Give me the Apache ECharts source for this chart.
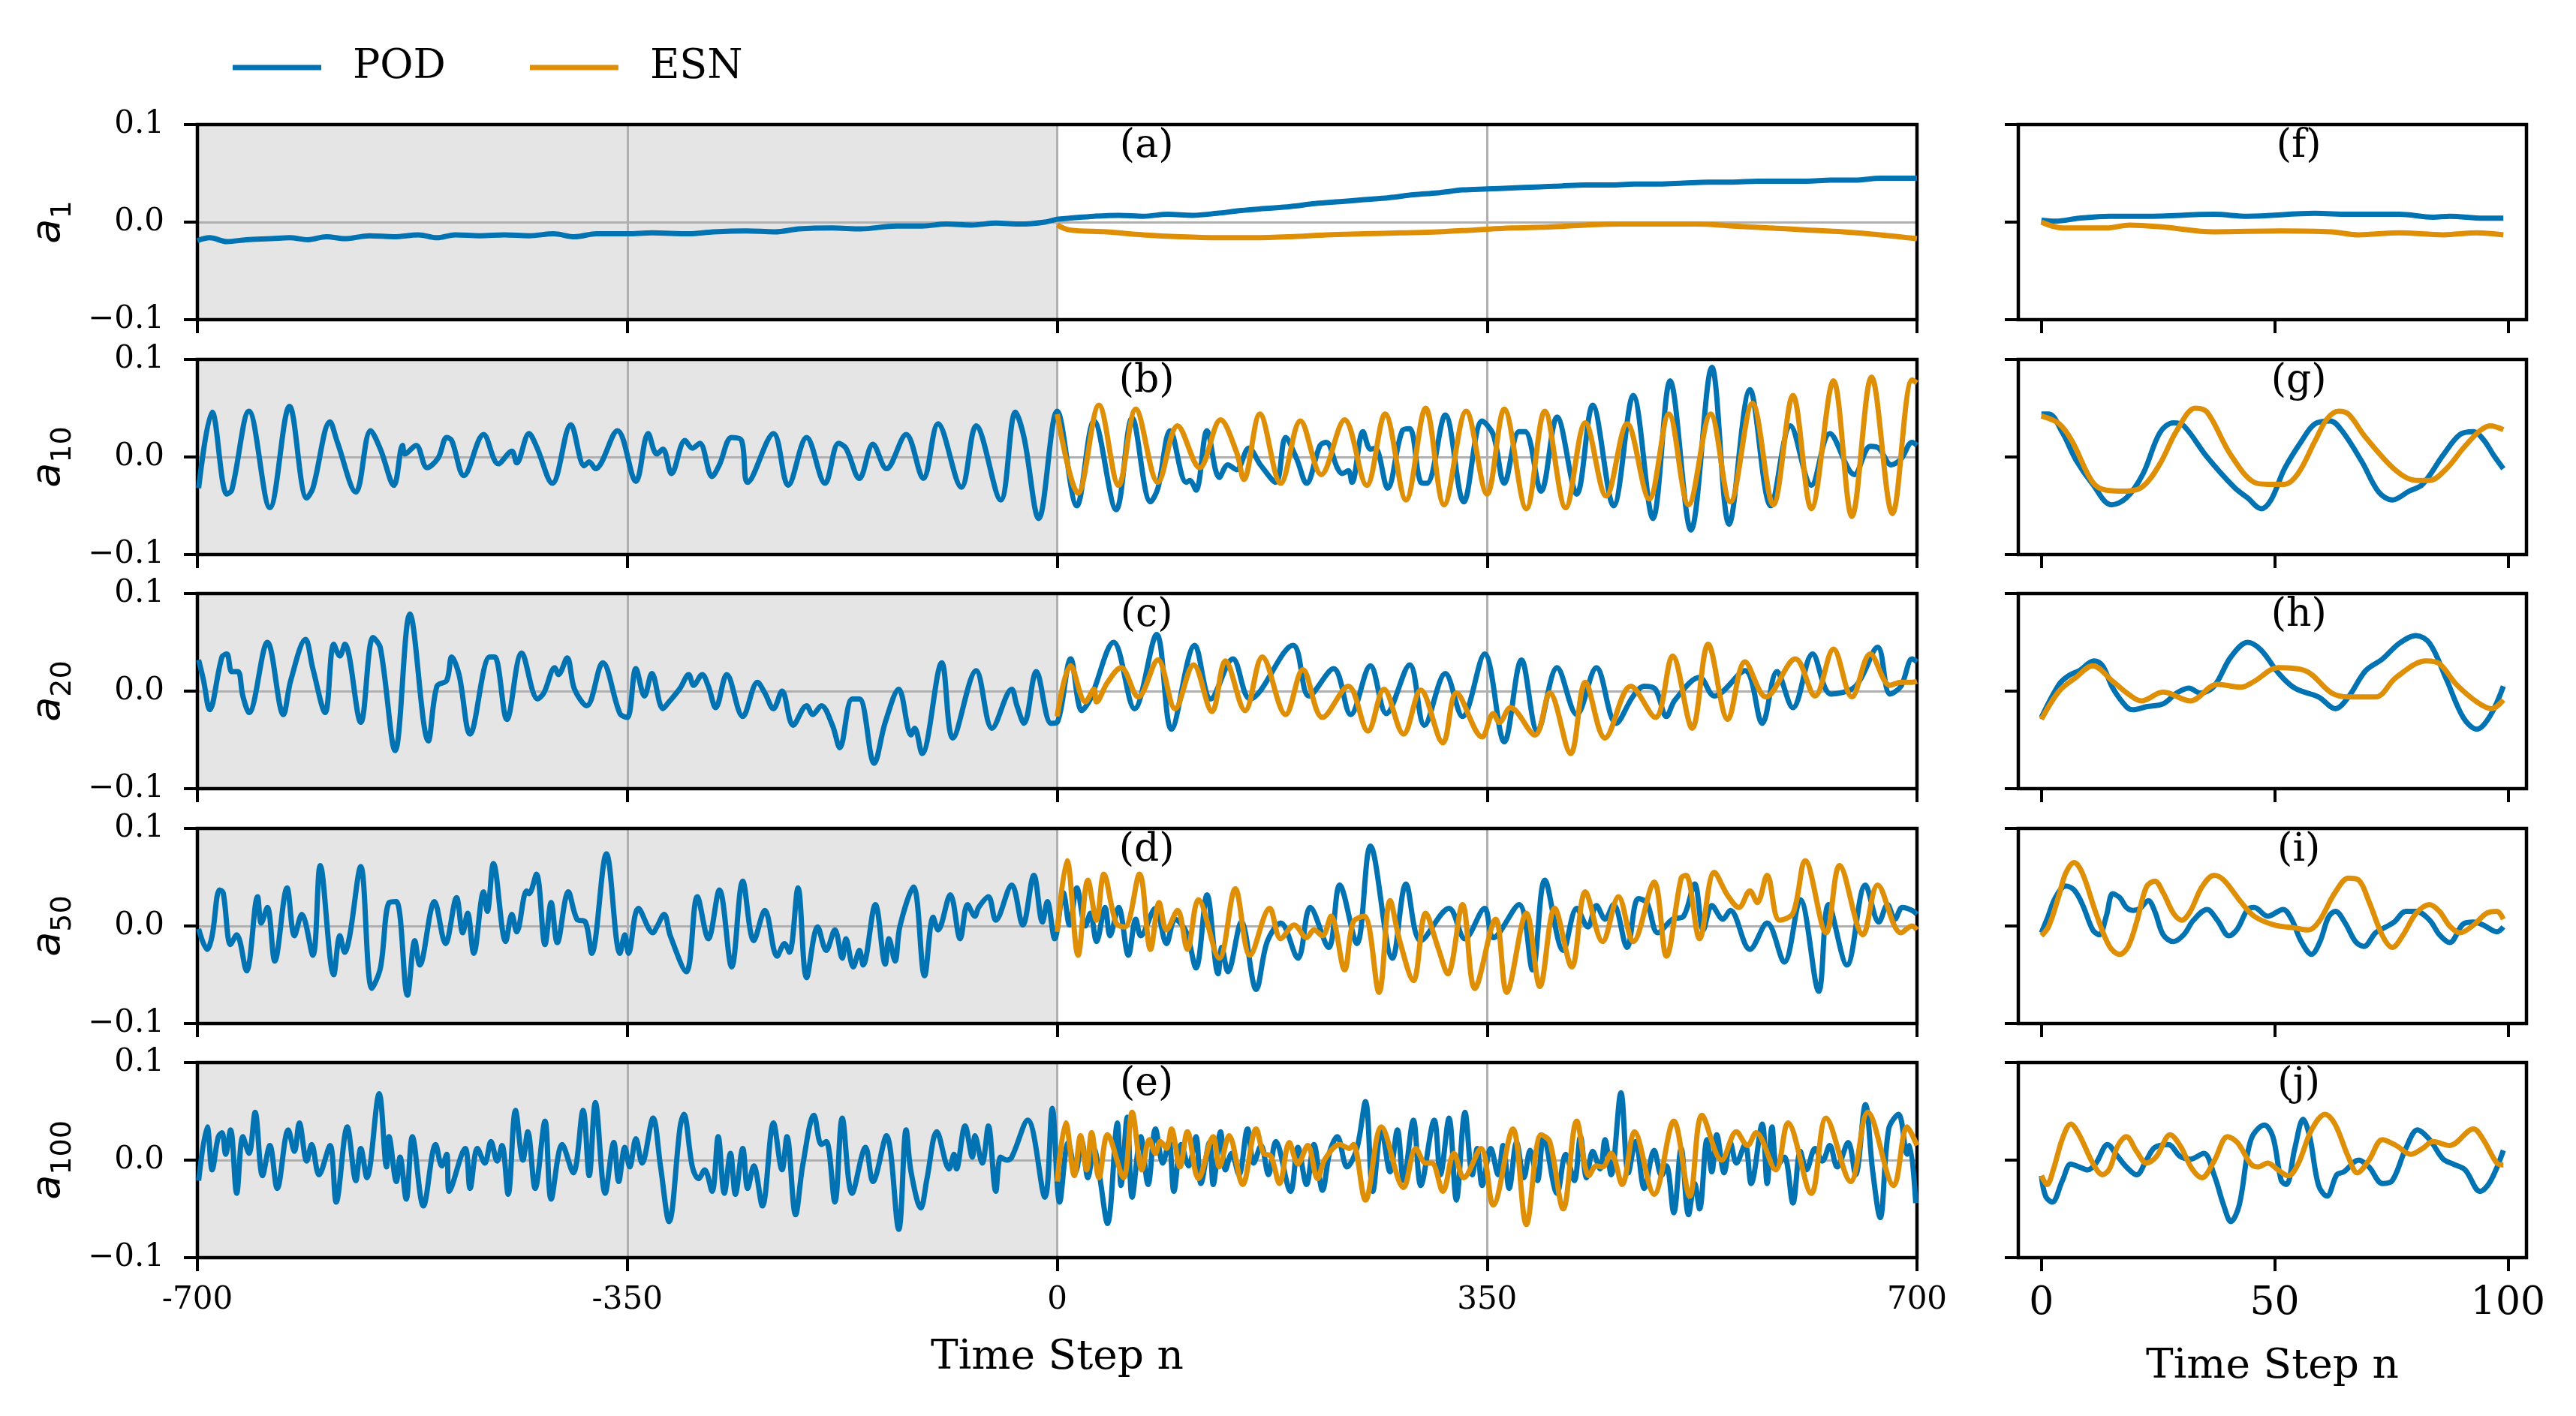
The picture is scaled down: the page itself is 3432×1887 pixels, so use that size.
<!DOCTYPE html>
<html>
<head>
<meta charset="utf-8">
<script src="https://cdn.jsdelivr.net/npm/echarts@6/dist/echarts.min.js"></script>
<style>
  html, body { margin: 0; padding: 0; background: #fff; }
  #main { width: 3432px; height: 1887px; }
</style>
</head>
<body>
<div id="main"></div>
<script>
// ---- data: [time step n, coefficient] ----
var yNames = ['1', '10', '20', '50', '100'];
var leftTags = ['(a)', '(b)', '(c)', '(d)', '(e)'];
var rightTags = ['(f)', '(g)', '(h)', '(i)', '(j)'];
var leftTicks = [-700, -350, 0, 350, 700];
var rightTicks = [0, 50, 100];

var podA = [[-700,-0.019],[-690,-0.016],[-676,-0.020],[-660,-0.018],[-640,-0.017],[-625,-0.016],[-610,-0.018],[-595,-0.015],[-580,-0.017],[-560,-0.014],[-540,-0.015],[-520,-0.013],[-505,-0.016],[-490,-0.013],[-470,-0.014],[-450,-0.013],[-430,-0.014],[-410,-0.012],[-393,-0.015],[-375,-0.012],[-350,-0.012],[-330,-0.011],[-300,-0.012],[-280,-0.010],[-253,-0.009],[-230,-0.010],[-210,-0.007],[-183,-0.006],[-160,-0.007],[-131,-0.004],[-110,-0.004],[-90,-0.002],[-70,-0.003],[-50,-0.001],[-30,-0.002],[-10,0.000],[0,0.003],[10,0.004],[30,0.006],[50,0.007],[70,0.006],[90,0.008],[110,0.007],[130,0.009],[150,0.012],[170,0.014],[190,0.016],[210,0.019],[230,0.021],[250,0.023],[270,0.025],[290,0.028],[310,0.030],[330,0.033],[350,0.034],[370,0.035],[390,0.036],[410,0.037],[430,0.038],[450,0.038],[470,0.039],[490,0.039],[510,0.040],[530,0.041],[550,0.041],[570,0.042],[590,0.042],[610,0.042],[630,0.043],[650,0.043],[670,0.045],[690,0.045],[700,0.045]];
var esnA = [[0,-0.003],[10,-0.008],[40,-0.010],[70,-0.013],[100,-0.015],[130,-0.016],[160,-0.016],[190,-0.015],[220,-0.013],[250,-0.012],[280,-0.011],[310,-0.010],[340,-0.008],[370,-0.006],[400,-0.005],[430,-0.003],[460,-0.002],[490,-0.002],[520,-0.002],[550,-0.004],[580,-0.006],[610,-0.008],[640,-0.010],[670,-0.013],[700,-0.017]];

var podB = [[-699,-0.032],[-688,0.046],[-676,-0.038],[-672,-0.034],[-658,0.047],[-641,-0.052],[-625,0.052],[-611,-0.042],[-606,-0.032],[-592,0.036],[-586,0.015],[-571,-0.036],[-559,0.027],[-551,0.008],[-540,-0.029],[-533,0.012],[-531,0.003],[-522,0.012],[-513,-0.011],[-504,-0.001],[-497,0.020],[-493,0.017],[-483,-0.019],[-467,0.023],[-455,-0.007],[-444,0.006],[-440,-0.006],[-430,0.024],[-424,0.011],[-411,-0.027],[-396,0.033],[-385,-0.009],[-381,-0.005],[-376,-0.012],[-358,0.027],[-343,-0.025],[-333,0.024],[-326,0.003],[-321,0.008],[-314,-0.017],[-303,0.017],[-297,0.009],[-291,0.014],[-281,-0.020],[-275,-0.008],[-265,0.020],[-257,0.017],[-252,-0.026],[-231,0.024],[-219,-0.029],[-204,0.020],[-189,-0.027],[-178,0.014],[-172,0.009],[-161,-0.022],[-150,0.013],[-139,-0.012],[-123,0.023],[-109,-0.022],[-97,0.034],[-78,-0.031],[-66,0.032],[-46,-0.044],[-34,0.046],[-27,0.020],[-15,-0.063],[0,0.047],
  [16,-0.050],[30,0.037],[48,-0.054],[61,0.040],[76,-0.046],[82,-0.032],[92,0.027],[105,-0.026],[108,-0.024],[113,-0.034],[122,0.027],[132,-0.021],[139,-0.008],[146,-0.013],[156,0.009],[166,-0.009],[178,-0.026],[186,0.020],[195,-0.002],[203,-0.027],[214,0.012],[219,0.015],[228,-0.011],[232,-0.017],[237,-0.014],[240,-0.026],[249,0.026],[255,0.008],[259,0.009],[269,-0.032],[281,0.027],[287,0.029],[296,-0.026],[301,-0.027],[316,0.043],[331,-0.046],[346,0.037],[355,0.023],[364,-0.027],[376,0.026],[381,0.026],[394,-0.035],[407,0.041],[423,-0.038],[436,0.053],[453,-0.050],[469,0.063],[485,-0.063],[499,0.078],[516,-0.075],[533,0.092],[547,-0.069],[564,0.069],[581,-0.050],[597,0.032],[614,-0.029],[629,0.024],[649,-0.018],[662,0.011],[669,0.009],[679,-0.008],[687,-0.002],[696,0.015],[700,0.012]];
var esnB = [[0,0.044],[17,-0.037],[34,0.053],[50,-0.029],[64,0.049],[82,-0.026],[98,0.032],[116,-0.011],[133,0.038],[146,0.005],[152,-0.023],[165,0.044],[182,-0.027],[198,0.037],[215,-0.018],[234,0.038],[252,-0.029],[267,0.044],[284,-0.044],[300,0.050],[315,-0.049],[333,0.047],[350,-0.038],[364,0.049],[382,-0.053],[397,0.047],[414,-0.052],[430,0.035],[447,-0.040],[464,0.034],[482,-0.043],[498,0.044],[514,-0.049],[532,0.044],[548,-0.046],[566,0.055],[583,-0.049],[599,0.063],[614,-0.053],[632,0.078],[647,-0.061],[663,0.082],[680,-0.058],[696,0.079],[700,0.076]];

var podC = [[-699,0.032],[-695,0.011],[-690,-0.019],[-680,0.035],[-676,0.038],[-672,0.020],[-667,0.020],[-663,-0.005],[-658,-0.022],[-643,0.050],[-630,-0.024],[-624,0.011],[-612,0.053],[-606,0.023],[-596,-0.022],[-589,0.048],[-584,0.036],[-580,0.048],[-567,-0.032],[-557,0.055],[-551,0.044],[-539,-0.061],[-527,0.079],[-512,-0.051],[-505,0.005],[-497,0.011],[-493,0.035],[-487,0.017],[-478,-0.044],[-462,0.035],[-458,0.035],[-448,-0.029],[-436,0.039],[-423,-0.008],[-418,-0.002],[-409,0.024],[-406,0.017],[-399,0.034],[-393,0.002],[-383,-0.015],[-370,0.029],[-356,-0.023],[-350,-0.027],[-343,0.023],[-336,-0.005],[-330,0.018],[-321,-0.018],[-316,-0.011],[-307,0.003],[-300,0.017],[-296,0.006],[-289,0.017],[-284,0.005],[-278,-0.017],[-269,0.017],[-256,-0.026],[-244,0.009],[-238,-0.002],[-231,-0.018],[-224,0.000],[-215,-0.035],[-204,-0.015],[-199,-0.024],[-192,-0.015],[-183,-0.035],[-177,-0.058],[-167,-0.008],[-161,-0.008],[-149,-0.074],[-140,-0.032],[-129,0.002],[-119,-0.045],[-116,-0.038],[-110,-0.064],[-94,0.029],[-85,-0.048],[-66,0.021],[-53,-0.038],[-37,0.002],[-33,-0.014],[-27,-0.033],[-17,0.020],[-5,-0.033],[0,-0.032],
  [11,0.033],[20,-0.020],[27,-0.008],[46,0.050],[63,-0.018],[81,0.058],[93,-0.039],[112,0.047],[125,-0.008],[143,0.033],[157,-0.008],[192,0.047],[205,-0.005],[225,0.023],[239,-0.024],[255,0.026],[268,-0.023],[287,0.027],[299,-0.035],[316,0.018],[330,-0.026],[348,0.038],[364,-0.052],[378,0.032],[391,-0.041],[407,0.024],[423,-0.024],[439,0.024],[455,-0.033],[469,-0.005],[478,0.005],[487,0.002],[496,-0.026],[503,-0.009],[523,0.014],[535,-0.005],[560,0.021],[574,-0.033],[586,0.020],[599,-0.017],[615,0.038],[630,-0.003],[650,0.005],[668,0.045],[678,-0.003],[687,0.005],[696,0.033],[700,0.030]];
var esnC = [[0,-0.026],[11,0.026],[23,-0.011],[30,0.002],[32,-0.011],[41,0.009],[52,0.024],[66,-0.006],[82,0.032],[96,-0.018],[111,0.027],[126,-0.021],[137,0.031],[153,-0.020],[167,0.035],[186,-0.024],[200,0.022],[216,-0.027],[237,0.005],[253,-0.041],[266,0.002],[282,-0.044],[296,0.001],[314,-0.053],[325,-0.002],[346,-0.047],[355,-0.023],[360,-0.032],[369,-0.017],[389,-0.045],[401,-0.002],[418,-0.064],[430,0.009],[446,-0.048],[467,0.005],[487,-0.027],[501,0.036],[517,-0.038],[530,0.048],[546,-0.029],[560,0.030],[577,-0.006],[601,0.033],[617,-0.005],[632,0.043],[647,-0.006],[662,0.038],[678,0.006],[687,0.009],[696,0.009],[700,0.010]];

var podD = [[-699,-0.003],[-692,-0.024],[-688,-0.010],[-682,0.037],[-679,0.034],[-673,-0.019],[-668,-0.009],[-660,-0.046],[-651,0.030],[-648,0.003],[-643,0.019],[-637,-0.036],[-627,0.039],[-621,-0.010],[-615,0.012],[-606,-0.030],[-600,0.062],[-589,-0.050],[-584,-0.010],[-580,-0.027],[-576,-0.010],[-567,0.061],[-558,-0.064],[-551,-0.043],[-544,0.024],[-538,0.025],[-529,-0.071],[-523,-0.015],[-519,-0.040],[-507,0.025],[-498,-0.018],[-489,0.029],[-484,-0.007],[-480,0.013],[-475,-0.028],[-467,0.035],[-464,0.015],[-459,0.064],[-449,-0.016],[-444,0.012],[-440,-0.006],[-432,0.036],[-430,0.033],[-424,0.053],[-417,-0.019],[-412,0.024],[-407,-0.017],[-398,0.035],[-391,0.007],[-384,0.004],[-379,-0.028],[-367,0.074],[-356,-0.028],[-352,-0.009],[-349,-0.028],[-341,0.018],[-329,-0.007],[-326,-0.001],[-320,0.012],[-315,-0.010],[-302,-0.047],[-293,0.030],[-284,-0.013],[-275,0.037],[-265,-0.042],[-256,0.046],[-247,-0.015],[-238,0.016],[-228,-0.031],[-222,-0.018],[-218,-0.027],[-211,0.039],[-204,-0.053],[-195,-0.001],[-188,-0.025],[-181,-0.004],[-175,-0.033],[-172,-0.013],[-166,-0.042],[-161,-0.025],[-158,-0.040],[-148,0.022],[-140,-0.039],[-137,-0.013],[-132,-0.036],[-128,0.000],[-117,0.040],[-108,-0.051],[-101,0.009],[-97,-0.004],[-87,0.032],[-79,-0.013],[-73,0.022],[-67,0.010],[-64,0.019],[-56,0.030],[-50,0.006],[-37,0.042],[-28,0.001],[-19,0.052],[-12,0.004],[-8,0.025],[-2,-0.013],
  [5,0.034],[10,0.001],[16,0.039],[23,0.000],[27,0.013],[32,-0.016],[39,0.019],[43,-0.010],[50,0.019],[58,-0.030],[64,0.007],[68,-0.010],[80,0.018],[89,-0.018],[96,0.007],[105,-0.006],[113,-0.043],[122,0.032],[131,-0.049],[134,-0.022],[139,-0.047],[150,0.004],[162,-0.065],[171,-0.016],[182,0.003],[196,-0.033],[206,0.019],[221,-0.022],[230,0.042],[244,-0.018],[255,0.082],[273,-0.033],[284,0.043],[296,-0.015],[319,0.018],[332,-0.013],[348,0.018],[355,-0.012],[376,0.022],[387,-0.045],[397,0.047],[412,-0.025],[423,0.018],[432,-0.001],[439,0.021],[446,0.007],[453,0.022],[464,-0.022],[473,0.028],[480,0.024],[489,-0.007],[501,0.007],[510,0.010],[519,0.043],[526,-0.004],[533,0.021],[542,0.007],[548,0.016],[564,-0.024],[578,0.003],[592,-0.037],[605,0.027],[620,-0.067],[628,0.022],[643,-0.040],[658,0.042],[669,0.004],[676,0.022],[682,0.007],[688,0.019],[696,0.016],[700,0.012]];
var esnD = [[0,-0.006],[8,0.067],[17,-0.030],[25,0.047],[32,0.006],[38,0.053],[48,0.003],[55,-0.001],[67,0.053],[76,-0.024],[83,0.024],[89,-0.004],[98,0.016],[106,-0.024],[115,0.027],[132,-0.033],[145,0.038],[157,-0.030],[173,0.018],[182,-0.013],[193,0.001],[203,-0.012],[209,-0.004],[216,-0.010],[223,0.010],[234,-0.045],[241,0.004],[250,0.010],[262,-0.068],[271,0.026],[279,-0.016],[290,-0.056],[300,0.013],[310,-0.022],[318,-0.049],[330,0.022],[340,-0.064],[357,0.007],[366,-0.068],[382,0.013],[393,-0.062],[405,0.018],[419,-0.042],[430,0.035],[444,-0.016],[457,0.030],[469,-0.016],[486,0.045],[496,-0.031],[508,0.049],[512,0.052],[523,-0.013],[535,0.055],[546,0.031],[555,0.019],[564,0.036],[570,0.024],[578,0.052],[588,0.006],[599,0.013],[609,0.067],[626,-0.007],[637,0.062],[656,-0.009],[668,0.042],[687,-0.007],[696,0.000],[700,-0.004]];

var podE = [[-699,-0.021],[-692,0.034],[-688,-0.010],[-683,0.024],[-680,0.028],[-677,0.006],[-673,0.031],[-668,-0.034],[-663,0.024],[-658,0.007],[-653,0.049],[-647,-0.016],[-641,0.015],[-635,-0.029],[-626,0.031],[-621,0.009],[-617,0.038],[-611,-0.001],[-607,0.016],[-601,-0.015],[-592,0.015],[-587,-0.043],[-578,0.034],[-571,-0.021],[-567,0.012],[-562,-0.018],[-552,0.068],[-546,-0.007],[-544,0.024],[-538,-0.022],[-535,0.003],[-530,-0.040],[-525,0.024],[-516,-0.047],[-506,0.016],[-501,-0.006],[-497,0.006],[-495,-0.032],[-482,0.012],[-478,-0.029],[-472,0.012],[-466,-0.003],[-461,0.019],[-456,-0.001],[-452,0.015],[-447,-0.035],[-441,0.051],[-435,0.000],[-431,0.029],[-425,-0.029],[-417,0.040],[-412,-0.040],[-403,0.016],[-394,-0.013],[-386,0.051],[-381,-0.016],[-376,0.059],[-368,-0.034],[-361,0.018],[-357,-0.022],[-352,0.013],[-348,-0.007],[-343,0.022],[-338,-0.003],[-329,0.043],[-323,-0.006],[-316,-0.063],[-307,0.034],[-304,0.047],[-297,-0.007],[-292,-0.019],[-287,-0.010],[-281,-0.032],[-276,0.024],[-271,-0.034],[-266,0.007],[-262,-0.035],[-256,0.012],[-252,-0.029],[-247,-0.006],[-240,-0.047],[-231,0.038],[-224,-0.010],[-220,0.024],[-213,-0.056],[-207,-0.004],[-198,0.046],[-192,0.016],[-188,0.019],[-181,-0.043],[-175,0.043],[-167,-0.034],[-156,0.013],[-150,-0.022],[-139,0.025],[-129,-0.071],[-123,0.031],[-119,-0.012],[-111,-0.049],[-106,-0.019],[-98,0.029],[-88,-0.009],[-84,0.006],[-82,-0.009],[-75,0.035],[-69,0.003],[-67,0.025],[-61,-0.003],[-56,0.035],[-50,-0.032],[-46,0.003],[-41,0.000],[-37,0.003],[-24,0.041],[-10,-0.038],[-4,0.053],
  [2,-0.043],[9,0.018],[15,-0.012],[20,0.019],[25,-0.018],[30,0.012],[34,-0.012],[41,-0.065],[49,0.038],[52,-0.026],[57,0.044],[61,-0.038],[68,0.024],[74,-0.025],[80,0.032],[86,-0.003],[91,0.019],[95,-0.032],[101,0.016],[107,-0.006],[113,0.024],[117,-0.024],[124,0.018],[127,-0.025],[133,0.029],[137,-0.010],[142,0.007],[148,-0.015],[155,0.032],[160,-0.003],[166,0.015],[172,-0.015],[178,0.019],[190,-0.032],[196,0.013],[203,-0.025],[209,0.016],[216,-0.031],[222,0.009],[228,0.024],[236,-0.007],[244,0.012],[251,0.060],[257,-0.032],[264,0.032],[271,-0.012],[277,0.031],[282,-0.021],[290,0.041],[296,-0.026],[307,0.041],[312,-0.015],[319,0.043],[325,-0.041],[332,0.049],[338,-0.015],[342,0.012],[346,-0.026],[353,0.012],[359,-0.015],[363,0.015],[368,-0.029],[374,0.018],[380,-0.018],[385,0.010],[391,-0.021],[396,0.024],[407,-0.034],[414,0.006],[421,-0.021],[426,0.024],[431,-0.018],[436,0.009],[442,-0.009],[446,0.021],[451,-0.015],[459,0.069],[465,-0.013],[471,0.019],[478,-0.029],[486,0.010],[492,-0.016],[496,-0.006],[502,-0.054],[508,0.012],[514,-0.056],[519,-0.024],[523,-0.050],[529,0.021],[533,-0.012],[537,0.026],[543,-0.013],[548,0.018],[553,-0.003],[560,0.016],[565,-0.024],[574,0.037],[578,-0.024],[582,0.034],[586,-0.006],[592,0.003],[599,-0.044],[605,0.009],[610,-0.010],[617,0.012],[623,-0.001],[629,0.015],[635,-0.007],[644,0.018],[650,-0.015],[658,0.057],[664,-0.012],[670,-0.059],[677,0.032],[685,0.047],[692,0.006],[694,0.015],[699,-0.044]];
var esnE = [[0,-0.022],[7,0.038],[14,-0.016],[19,0.025],[24,-0.010],[28,0.028],[34,-0.018],[41,0.026],[54,-0.018],[61,0.049],[69,-0.010],[75,0.021],[80,0.007],[84,0.019],[89,0.012],[93,0.032],[100,-0.007],[106,0.029],[115,-0.019],[127,0.024],[132,-0.007],[140,0.025],[151,-0.025],[162,0.032],[168,0.007],[174,0.004],[181,-0.024],[189,0.018],[196,-0.004],[204,0.015],[212,-0.019],[218,0.001],[230,0.016],[238,0.012],[241,0.016],[251,-0.041],[264,0.034],[282,-0.028],[292,0.012],[300,-0.003],[305,-0.003],[314,-0.032],[323,0.007],[331,-0.018],[345,0.012],[355,-0.046],[371,0.032],[382,-0.066],[394,0.026],[401,0.019],[412,-0.050],[423,0.040],[433,-0.016],[439,-0.006],[444,-0.007],[451,0.007],[460,-0.025],[470,0.029],[486,-0.035],[502,0.040],[515,-0.037],[525,0.046],[541,0.000],[553,0.029],[562,0.015],[569,0.028],[585,-0.010],[595,0.038],[614,-0.034],[626,0.043],[646,-0.022],[660,0.049],[681,-0.026],[692,0.034],[700,0.015]];

var podF = [[0,0.002],[3,0.001],[8.1,0.004],[14.6,0.006],[22.5,0.006],[37,0.008],[44.2,0.006],[58.6,0.009],[65.8,0.008],[76.7,0.008],[83.9,0.005],[87.5,0.006],[94.7,0.004],[99,0.004]];
var esnF = [[0,0.000],[4.5,-0.006],[8.1,-0.006],[13.9,-0.006],[18.9,-0.003],[26.1,-0.005],[37,-0.010],[51.4,-0.009],[62.2,-0.010],[68,-0.013],[76.7,-0.011],[86.1,-0.013],[93.3,-0.011],[99,-0.013]];
var podG = [[0,0.044],[1.6,0.044],[4.5,0.025],[7.4,-0.003],[11,-0.028],[15,-0.049],[18.2,-0.042],[21.8,-0.017],[25.4,0.025],[28.3,0.035],[30.5,0.032],[35.5,0.000],[41.3,-0.031],[44.2,-0.042],[47.1,-0.053],[49.2,-0.044],[52.1,-0.012],[55.7,0.016],[58.6,0.034],[61.9,0.037],[64.4,0.027],[68.7,-0.005],[72.3,-0.036],[75.2,-0.044],[78.8,-0.035],[81.7,-0.028],[86.1,0.002],[89.7,0.023],[92.6,0.026],[94.7,0.018],[96.9,0.002],[99,-0.012]];
var esnG = [[0,0.042],[3.8,0.034],[6.6,0.016],[11,-0.026],[13.9,-0.034],[18.2,-0.035],[21.8,-0.030],[25.4,-0.007],[29,0.027],[33,0.050],[35.5,0.046],[40.6,0.002],[45.6,-0.026],[48.5,-0.028],[52.1,-0.028],[55,-0.017],[58.6,0.016],[61.2,0.039],[63.7,0.047],[65.8,0.044],[69.5,0.020],[76,-0.014],[80.3,-0.024],[83.2,-0.024],[86.8,-0.012],[90.4,0.009],[94,0.027],[96.2,0.032],[99,0.028]];
var podH = [[0,-0.027],[3.8,0.007],[5.9,0.016],[8.1,0.021],[11.3,0.031],[13.1,0.026],[15.3,0.003],[18.2,-0.016],[19.6,-0.019],[22.5,-0.016],[26.1,-0.013],[29,-0.002],[31.6,0.003],[34.1,-0.002],[37,0.005],[40.6,0.035],[44.2,0.050],[47.1,0.042],[50.7,0.019],[54.3,0.003],[59.4,-0.006],[63,-0.018],[65.8,-0.006],[69.5,0.021],[73.1,0.033],[76.7,0.049],[80.3,0.057],[83.2,0.049],[86.8,0.012],[90.4,-0.027],[93.3,-0.039],[96.2,-0.025],[99,0.005]];
var esnH = [[0,-0.029],[3.8,0.000],[7.4,0.014],[11,0.026],[15.3,0.010],[18.9,-0.004],[21.4,-0.010],[26.1,-0.001],[31.9,-0.010],[37.7,0.007],[42.7,0.004],[45.6,0.010],[50.7,0.024],[56.5,0.021],[62.2,-0.002],[65.8,-0.006],[71.6,-0.006],[76,0.014],[82.5,0.031],[85.3,0.028],[88.9,0.007],[93.3,-0.011],[96.5,-0.018],[99,-0.009]];
var podI = [[0,-0.007],[1.2,0.007],[3,0.029],[5.2,0.041],[7,0.037],[8.8,0.022],[11,-0.004],[12.4,-0.009],[13.9,0.010],[15.3,0.033],[16.8,0.029],[18.2,0.019],[19.6,0.016],[21.1,0.018],[22.9,0.026],[24.3,0.015],[26.1,-0.009],[28.3,-0.016],[30.5,-0.009],[32.6,0.006],[35.5,0.017],[37.7,0.006],[40.2,-0.010],[42,-0.003],[44.2,0.017],[45.6,0.019],[48.5,0.010],[51.8,0.017],[53.6,0.007],[55.7,-0.016],[57.9,-0.029],[59.7,-0.016],[61.5,0.009],[63,0.015],[65.1,0.003],[67.3,-0.016],[69.1,-0.021],[71.6,-0.007],[73.8,-0.001],[75.6,0.004],[78.1,0.015],[80.3,0.015],[83.2,0.006],[85.3,-0.009],[87.5,-0.017],[90.4,0.002],[92.6,0.004],[94.7,0.001],[97.6,-0.006],[99,-0.001]];
var esnI = [[0,-0.010],[1.6,0.000],[3.8,0.032],[5.2,0.054],[7,0.065],[8.8,0.054],[11.7,0.013],[14.6,-0.021],[16.8,-0.029],[18.6,-0.021],[20.4,0.004],[22.5,0.040],[24.3,0.046],[26.1,0.034],[28.3,0.013],[30.1,0.006],[31.9,0.015],[34.4,0.040],[37,0.052],[39.1,0.047],[42.7,0.025],[45.6,0.010],[49.9,0.001],[54.3,-0.002],[57.2,-0.004],[59.4,0.004],[62.9,0.034],[65.8,0.049],[68,0.047],[70.2,0.025],[73.1,-0.010],[75.2,-0.022],[77.4,-0.010],[80.3,0.013],[83.2,0.022],[85.3,0.015],[87.5,0.000],[89.7,-0.007],[92.6,0.001],[95.4,0.013],[97.6,0.015],[99,0.007]];
var podJ = [[0,-0.016],[0.9,-0.037],[2.3,-0.043],[4.5,-0.021],[6.3,-0.004],[8.1,-0.007],[9.9,-0.010],[11.7,-0.003],[14.2,0.016],[16,0.006],[18.2,-0.007],[20.4,-0.015],[22.5,0.000],[24.3,0.013],[27.2,0.016],[29.7,0.004],[31.9,0.001],[34.8,0.007],[37,-0.015],[39.1,-0.047],[40.6,-0.063],[42.4,-0.046],[44.9,0.021],[47.8,0.036],[49.6,0.024],[51.4,-0.021],[52.5,-0.025],[54.3,0.012],[56.1,0.042],[57.5,0.024],[59.4,-0.026],[61.2,-0.037],[63.3,-0.015],[64.8,-0.012],[68,0.000],[70.2,-0.007],[73.1,-0.024],[75.2,-0.021],[78.1,0.012],[80.6,0.031],[83.2,0.021],[86.1,0.001],[88.2,-0.004],[90.8,-0.010],[94,-0.032],[96.2,-0.022],[99,0.010]];
var esnJ = [[0,-0.016],[1.2,-0.025],[2.6,-0.009],[4.5,0.022],[6.3,0.037],[8.1,0.026],[11,-0.003],[13.1,-0.015],[14.6,-0.009],[16.4,0.015],[18.2,0.024],[20.4,0.009],[22.5,-0.003],[24.7,0.004],[27.6,0.026],[29.7,0.015],[32.3,-0.009],[34.4,-0.018],[37,-0.001],[39.9,0.024],[42,0.018],[44.9,-0.004],[46.4,-0.007],[48.5,-0.003],[50.7,-0.010],[52.9,-0.016],[55,-0.004],[57.9,0.031],[60.8,0.047],[62.9,0.037],[65.8,0.003],[67.7,-0.013],[70.2,0.000],[73.1,0.021],[76,0.015],[79.2,0.006],[81.7,0.012],[83.9,0.019],[87.5,0.015],[92.6,0.032],[94.7,0.021],[97.6,-0.003],[99,-0.005]];

var leftPod = [podA, podB, podC, podD, podE];
var leftEsn = [esnA, esnB, esnC, esnD, esnE];
var rightPod = [podF, podG, podH, podI, podJ];
var rightEsn = [esnF, esnG, esnH, esnI, esnJ];

// ---- layout ----
var BLUE = '#0173b2', ORANGE = '#de8f05';
var SERIF = 'DejaVu Serif';
var LW = 7;
var rowTops = [166, 479, 791, 1104, 1416], rowH = 260;
var leftX = 263, leftW = 2291, rightX = 2689, rightW = 677;

function fmtY(v) {
    var s = Math.abs(v).toFixed(1);
    return v < -1e-9 ? '\u2212' + s : s;
}

var myChart = echarts.init(document.getElementById('main'));

var grids = [], xAxes = [], yAxes = [], series = [], graphics = [];
var tickStyle = { show: true, length: 18, lineStyle: { color: '#000', width: 4 } };

for (var i = 0; i < 5; i++) {
    var last = (i === 4);
    var gl = 2 * i, gr = 2 * i + 1;

    // grid border drawn above the grey split lines so the spines stay black
    grids.push({ left: leftX, top: rowTops[i], width: leftW, height: rowH,
        show: true, borderColor: '#000', borderWidth: 4.5, z: 2.5 });
    grids.push({ left: rightX, top: rowTops[i], width: rightW, height: rowH,
        show: true, borderColor: '#000', borderWidth: 4.5, z: 2.5 });

    xAxes.push({
        type: 'value', gridIndex: gl, min: leftTicks[0], max: leftTicks[4], interval: 350, z: 2,
        axisLine: { show: false, onZero: false },
        axisTick: tickStyle,
        axisLabel: { show: last, margin: 36, fontSize: 42, fontFamily: SERIF, color: '#000' },
        splitLine: { show: true, lineStyle: { color: '#b0b0b0', width: 3 } },
        name: last ? 'Time Step n' : '', nameLocation: 'middle', nameGap: 106,
        nameTextStyle: { fontSize: 55, fontFamily: SERIF, color: '#000' }
    });
    xAxes.push({
        type: 'value', gridIndex: gr, min: -4.95, max: 103.95, z: 2,
        axisLine: { show: false, onZero: false },
        axisTick: { show: true, length: 18, lineStyle: { color: '#000', width: 4 }, customValues: rightTicks },
        axisLabel: { show: last, margin: 35, fontSize: 52, fontFamily: SERIF, color: '#000', customValues: rightTicks },
        splitLine: { show: false },
        name: last ? 'Time Step n' : '', nameLocation: 'middle', nameGap: 118,
        nameTextStyle: { fontSize: 55, fontFamily: SERIF, color: '#000' }
    });

    yAxes.push({
        type: 'value', gridIndex: gl, min: -0.1, max: 0.1, interval: 0.1, z: 2,
        axisLine: { show: false, onZero: false },
        axisTick: tickStyle,
        axisLabel: { margin: 44, fontSize: 42, fontFamily: SERIF, color: '#000', formatter: fmtY },
        splitLine: { show: true, lineStyle: { color: '#b0b0b0', width: 3 } },
        name: '{a|a}{s|' + yNames[i] + '}', nameLocation: 'middle', nameRotate: 90, nameGap: 160,
        nameTextStyle: { rich: {
            a: { fontSize: 54, fontStyle: 'italic', fontFamily: 'DejaVu Sans', color: '#000', lineHeight: 76 },
            s: { fontSize: 38, fontFamily: 'DejaVu Sans', color: '#000', lineHeight: 38, verticalAlign: 'bottom' }
        } }
    });
    yAxes.push({
        type: 'value', gridIndex: gr, min: -0.1, max: 0.1, interval: 0.1, z: 2,
        axisLine: { show: false, onZero: false },
        axisTick: tickStyle,
        axisLabel: { show: false },
        splitLine: { show: false }
    });

    series.push({
        name: 'POD', type: 'line', xAxisIndex: gl, yAxisIndex: gl, data: leftPod[i],
        showSymbol: false, symbol: 'none', smooth: 0.35, z: 3,
        lineStyle: { color: BLUE, width: LW }, itemStyle: { color: BLUE },
        markArea: { silent: true, z: 1, itemStyle: { color: '#e5e5e5' },
            data: [[{ xAxis: leftTicks[0] }, { xAxis: 0 }]] }
    });
    series.push({
        name: 'ESN', type: 'line', xAxisIndex: gl, yAxisIndex: gl, data: leftEsn[i],
        showSymbol: false, symbol: 'none', smooth: 0.35, z: 3,
        lineStyle: { color: ORANGE, width: LW }, itemStyle: { color: ORANGE }
    });
    series.push({
        name: 'POD', type: 'line', xAxisIndex: gr, yAxisIndex: gr, data: rightPod[i],
        showSymbol: false, symbol: 'none', smooth: 0.35, z: 3,
        lineStyle: { color: BLUE, width: LW }, itemStyle: { color: BLUE }
    });
    series.push({
        name: 'ESN', type: 'line', xAxisIndex: gr, yAxisIndex: gr, data: rightEsn[i],
        showSymbol: false, symbol: 'none', smooth: 0.35, z: 3,
        lineStyle: { color: ORANGE, width: LW }, itemStyle: { color: ORANGE }
    });

    graphics.push({ type: 'text', x: leftX + 0.552 * leftW, y: rowTops[i] + 29, z: 10,
        style: { text: leftTags[i], font: '52px "DejaVu Serif"', fill: '#000',
            align: 'center', verticalAlign: 'middle', textAlign: 'center', textVerticalAlign: 'middle' } });
    graphics.push({ type: 'text', x: rightX + 0.552 * rightW, y: rowTops[i] + 29, z: 10,
        style: { text: rightTags[i], font: '52px "DejaVu Serif"', fill: '#000',
            align: 'center', verticalAlign: 'middle', textAlign: 'center', textVerticalAlign: 'middle' } });
}

var option = {
    backgroundColor: '#fff',
    animation: false,
    legend: {
        data: ['POD', 'ESN'], left: 310, top: 63, padding: 0,
        icon: 'rect', itemWidth: 118, itemHeight: 7, itemGap: 112, selectedMode: false,
        textStyle: { fontSize: 54, fontFamily: SERIF, color: '#000', padding: [0, 0, 0, 37] }
    },
    grid: grids,
    xAxis: xAxes,
    yAxis: yAxes,
    series: series,
    graphic: graphics
};

myChart.setOption(option);
</script>
</body>
</html>
